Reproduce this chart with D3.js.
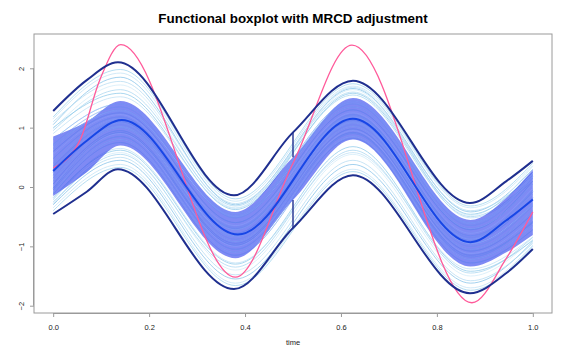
<!DOCTYPE html>
<html><head><meta charset="utf-8">
<script src="https://cdn.jsdelivr.net/npm/d3@7"></script>
<style>body{margin:0;background:#fff} svg{display:block}</style>
</head><body><svg id="c" width="570" height="356"></svg>
<script>
// ---- data ----
const medianT = [0,0.07,0.143,0.385,0.625,0.87,0.945,1.0];
const medianV = [0.27,0.78,1.13,-0.80,1.15,-0.93,-0.56,-0.21];
const envT    = [0,0.07,0.135,0.377,0.5,0.625,0.869,0.945,1.0];
const upperEnvelope = [1.28,1.80,2.10,-0.14,0.92,1.79,-0.27,0.10,0.44];
const lowerEnvelope = [-0.455,-0.08,0.30,-1.72,-0.69,0.20,-1.79,-1.45,-1.045];
const bandT   = [0,0.07,0.14,0.38,0.5,0.625,0.87,0.945,1.0];
const centralUpper = [0.85,1.10,1.45,-0.42,0.50,1.50,-0.555,-0.18,0.29];
const centralLower = [-0.15,0.25,0.70,-1.20,-0.22,0.80,-1.34,-1.10,-0.81];
const outlierT = [0,0.056,0.097,0.141,0.38,0.5,0.623,0.873,0.945,1.0];
const outlierV = [0.32,0.79,1.80,2.40,-1.52,0.40,2.39,-1.95,-1.20,-0.42];
const whiskerTime = 0.5;

// other sample curves: values at the knots (start, peak, trough, peak, trough, end)
const knotT = [0,0.14,0.38,0.625,0.87,1.0];
const outerCurves = [
  [1.18,1.98,-0.20,1.74,-0.32,0.40],
  [1.15,1.92,-0.24,1.70,-0.35,0.36],
  [1.05,1.85,-0.30,1.66,-0.42,0.30],
  [1.10,1.78,-0.28,1.60,-0.40,0.20],
  [0.98,1.72,-0.35,1.64,-0.48,0.35],
  [0.95,1.64,-0.32,1.55,-0.50,0.15],
  [1.00,1.58,-0.38,1.58,-0.46,0.25],
  [0.90,1.52,-0.36,1.68,-0.52,0.10],
  [-0.40,0.33,-1.66,0.26,-1.74,-1.00],
  [-0.35,0.38,-1.62,0.30,-1.70,-0.98],
  [-0.30,0.45,-1.55,0.38,-1.62,-0.92],
  [-0.25,0.50,-1.48,0.45,-1.58,-0.95],
  [-0.20,0.58,-1.40,0.55,-1.50,-0.88],
  [-0.28,0.55,-1.35,0.62,-1.45,-0.85],
  [-0.18,0.62,-1.30,0.68,-1.42,-0.90],
  [-0.22,0.65,-1.28,0.58,-1.38,-0.84]
];
const innerCurves = [
  [0.80,1.40,-0.45,1.45,-0.60,0.22],
  [0.72,1.35,-0.52,1.40,-0.65,0.15],
  [0.65,1.30,-0.50,1.35,-0.70,0.05],
  [0.60,1.25,-0.60,1.30,-0.72,0.10],
  [0.55,1.22,-0.65,1.25,-0.78,-0.02],
  [0.48,1.18,-0.70,1.22,-0.82,-0.08],
  [0.40,1.15,-0.72,1.18,-0.88,-0.12],
  [0.35,1.10,-0.78,1.12,-0.90,-0.18],
  [0.20,1.08,-0.84,1.10,-0.96,-0.28],
  [0.15,1.05,-0.88,1.05,-1.00,-0.32],
  [0.10,1.00,-0.92,1.02,-1.05,-0.40],
  [0.05,0.95,-0.95,0.98,-1.08,-0.45],
  [0.00,0.90,-1.00,0.95,-1.12,-0.52],
  [-0.05,0.85,-1.05,0.90,-1.18,-0.58],
  [-0.10,0.80,-1.10,0.85,-1.22,-0.65],
  [-0.12,0.75,-1.15,0.82,-1.28,-0.72],
  [0.70,1.28,-0.48,1.42,-0.62,0.18],
  [0.30,1.12,-0.68,1.20,-0.85,-0.05],
  [0.25,1.02,-0.82,1.08,-0.95,-0.30],
  [-0.02,0.92,-0.98,0.92,-1.15,-0.60]
];
const xTicks = [0,0.2,0.4,0.6,0.8,1.0];
const yTicks = [-2,-1,0,1,2];
const titleText = "Functional boxplot with MRCD adjustment";
const xLabel = "time";

// ---- drawing ----
const svg = d3.select("#c");
const L=34, R=552, T=34, B=313;
const x = d3.scaleLinear().domain([-0.04,1.04]).range([L,R]);
const y = d3.scaleLinear().domain([-2.123,2.578]).range([B,T]);
const font = "'Liberation Sans', Arial, Helvetica, sans-serif";

const lineFor = ts => d3.line().x((d,i)=>x(ts[i])).y(d=>y(d)).curve(d3.curveMonotoneX);
const knotLine = lineFor(knotT);

const outerCols = ["#9fd3ee","#c4e4f6","#86c3e8","#b5dcf2","#d2ebf8","#a9d6f0","#8fcbea","#bfe0f5"];
svg.append("g").selectAll("path").data(outerCurves).join("path")
  .attr("d", knotLine).attr("fill","none")
  .attr("stroke",(d,i)=>outerCols[i%outerCols.length]).attr("stroke-width",0.9).attr("stroke-opacity",0.85);
svg.append("g").selectAll("path").data(innerCurves).join("path")
  .attr("d", knotLine).attr("fill","none")
  .attr("stroke",(d,i)=>outerCols[i%outerCols.length]).attr("stroke-width",0.9);

// central region
const area = d3.area().x((d,i)=>x(bandT[i])).y0((d,i)=>y(centralLower[i])).y1(d=>y(d)).curve(d3.curveMonotoneX);
svg.append("path").datum(centralUpper).attr("d",area).attr("fill","#3042ee").attr("fill-opacity",0.62);

svg.append("g").selectAll("path").data(innerCurves).join("path")
  .attr("d", knotLine).attr("fill","none")
  .attr("stroke",(d,i)=>["#a3b4ff","#7f9cf5","#b4c2ff","#6f8df0"][i%4]).attr("stroke-width",0.8).attr("stroke-opacity",0.5);

// outlier
svg.append("path").datum(outlierV).attr("d",lineFor(outlierT)).attr("fill","none").attr("stroke","#ff5a9a").attr("stroke-width",1.3);

// envelopes
[upperEnvelope, lowerEnvelope].forEach(c=>{
  svg.append("path").datum(c).attr("d",lineFor(envT)).attr("fill","none").attr("stroke","#1f2f8f").attr("stroke-width",2);
});
// whiskers
const wi = envT.indexOf(whiskerTime), bi = bandT.indexOf(whiskerTime);
[[centralUpper[bi],upperEnvelope[wi]],[centralLower[bi],lowerEnvelope[wi]]].forEach(p=>{
  svg.append("line").attr("x1",x(whiskerTime)).attr("x2",x(whiskerTime)).attr("y1",y(p[0])).attr("y2",y(p[1]))
    .attr("stroke","#1f2f8f").attr("stroke-width",1.4);
});
// median
svg.append("path").datum(medianV).attr("d",lineFor(medianT)).attr("fill","none").attr("stroke","#1746e6").attr("stroke-width",2);

// box
svg.append("rect").attr("x",L).attr("y",T).attr("width",R-L).attr("height",B-T).attr("fill","none").attr("stroke","#9a9a9a").attr("stroke-width",1);

// axes
const xa = svg.append("g").attr("transform",`translate(0,${B})`)
  .call(d3.axisBottom(x).tickValues(xTicks).tickFormat(d3.format(".1f")).tickSize(4).tickPadding(6));
const ya = svg.append("g").attr("transform",`translate(${L},0)`)
  .call(d3.axisLeft(y).tickValues(yTicks).tickFormat(d3.format("d")).tickSize(4).tickPadding(6));
[xa,ya].forEach(g=>{
  g.select(".domain").attr("stroke","#9a9a9a");
  g.selectAll(".tick line").attr("stroke","#9a9a9a");
  g.selectAll(".tick text").attr("fill","#222").style("font-family",font).style("font-size","7.5px");
});
xa.select(".domain").attr("d",`M${x(0)},0.5H${x(1)}`);
ya.select(".domain").attr("d",`M-0.5,${y(-2)}V${y(2)}`);
ya.selectAll(".tick text").attr("transform","rotate(-90)").attr("x",0).attr("y",-10).attr("dy","0").attr("text-anchor","middle");
xa.selectAll(".tick text").attr("dy","0.9em");

svg.append("text").attr("x",(L+R)/2).attr("y",23).attr("text-anchor","middle")
  .style("font-family",font).style("font-size","13.4px").style("font-weight","bold").attr("fill","#000").text(titleText);
svg.append("text").attr("x",(L+R)/2).attr("y",345).attr("text-anchor","middle")
  .style("font-family",font).style("font-size","7.5px").attr("fill","#222").text(xLabel);
</script></body></html>
